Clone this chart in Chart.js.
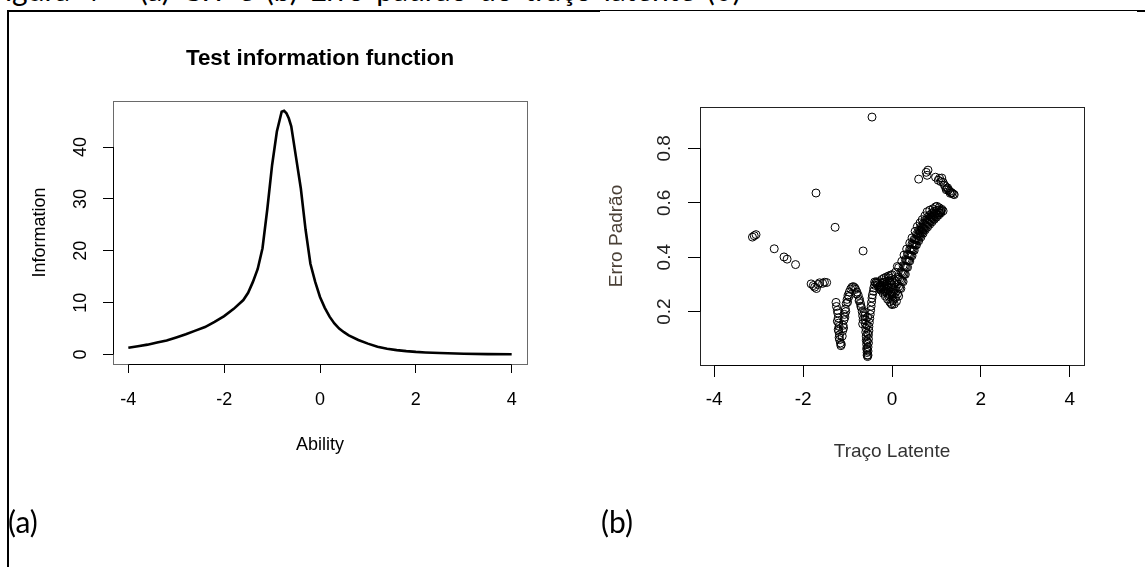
<!DOCTYPE html>
<html>
<head>
<meta charset="utf-8">
<script src="https://cdn.jsdelivr.net/npm/chart.js@4.4.0/dist/chart.umd.min.js"></script>
<style>
  body { margin: 0; background: #fff; width: 1145px; height: 567px; overflow: hidden; position: relative; }
  #capt { position: absolute; left: -12px; top: -29px; font: 30px Lato, "Open Sans", sans-serif; word-spacing: 4px; white-space: nowrap; color: #000; }
  .ln { position: absolute; background: #000; }
  #c1 { position: absolute; left: 0; top: 0; }
  #c2 { position: absolute; left: 575px; top: 0; }
  .lab { position: absolute; top: 503px; line-height: 36px; font: 30px Lato, "Open Sans", sans-serif; color: #000; }
</style>
</head>
<body>
<div id="capt">Figura 4 – (a) CIT e (b) Erro padrão do traço latente (θ)</div>
<div class="ln" style="left:7px;top:10px;width:593px;height:2px"></div>
<div class="ln" style="left:600px;top:10px;width:537px;height:1px"></div>
<div class="ln" style="left:1137px;top:10px;width:8px;height:2px"></div>
<div class="ln" style="left:7px;top:10px;width:2px;height:557px"></div>
<canvas id="c1" width="640" height="567"></canvas>
<canvas id="c2" width="570" height="567"></canvas>
<div class="lab" style="left:8px">(a)</div>
<div class="lab" style="left:601px">(b)</div>
<script>
// (a) test information function
const abilityX = [-4.0,-3.8,-3.6,-3.4,-3.2,-3.0,-2.8,-2.6,-2.4,-2.2,-2.0,-1.8,-1.6,-1.5,-1.4,-1.3,-1.2,-1.1,-1.0,-0.9,-0.8,-0.75,-0.7,-0.65,-0.6,-0.5,-0.4,-0.3,-0.2,-0.1,0.0,0.1,0.2,0.3,0.4,0.5,0.6,0.8,1.0,1.2,1.4,1.6,1.8,2.0,2.2,2.5,3.0,3.5,4.0];
const infoY = [1.3,1.6,1.9,2.3,2.7,3.3,3.9,4.6,5.3,6.3,7.4,8.8,10.5,11.9,14.0,16.5,20.5,28.0,36.5,43.0,46.8,47.0,46.5,45.5,44.0,38.0,32.0,24.0,17.5,14.0,11.1,9.0,7.3,6.0,5.0,4.3,3.7,2.8,2.1,1.5,1.1,0.85,0.65,0.5,0.4,0.3,0.15,0.08,0.05];
const abilityTicks = [-4, -2, 0, 2, 4];
const infoTicks = [0, 10, 20, 30, 40];

// (b) standard error vs latent trait, [theta, se]
const isolatedPts = [[-3.14,0.474],[-3.10,0.479],[-3.06,0.483],[-2.65,0.431],[-2.43,0.401],[-2.36,0.393],[-2.17,0.373],
  [-1.71,0.636],[-1.28,0.510],[-0.65,0.423],[-0.45,0.915],[-0.39,0.309]];
const clusterPts = [[-1.82,0.302],[-1.77,0.296],[-1.74,0.290],[-1.70,0.285],[-1.66,0.300],[-1.63,0.306],[-1.56,0.304],[-1.52,0.308],[-1.47,0.307]];
const nLeftPts = [[-1.26,0.234],[-1.25,0.219],[-1.23,0.205],[-1.22,0.195],[-1.21,0.177],[-1.23,0.165],[-1.20,0.158],[-1.19,0.146],
  [-1.21,0.135],[-1.20,0.128],[-1.18,0.115],[-1.19,0.105],[-1.18,0.097],[-1.16,0.085],[-1.15,0.075],[-1.14,0.080]];
const nRisePts = [[-1.12,0.110],[-1.11,0.130],[-1.10,0.150],[-1.08,0.170],[-1.07,0.190],[-1.05,0.210],[-1.03,0.230],[-1.01,0.245],
  [-0.99,0.260],[-0.96,0.272],[-0.93,0.283],[-0.90,0.290],[-0.87,0.292],[-0.84,0.288],[-1.09,0.140],[-1.06,0.180],[-1.04,0.200],[-1.00,0.235],[-0.97,0.255]];
const nFallPts = [[-0.82,0.282],[-0.79,0.272],[-0.76,0.260],[-0.73,0.245],[-0.71,0.230],[-0.69,0.215],[-0.67,0.200],[-0.66,0.185],
  [-0.65,0.170],[-0.66,0.155],[-0.80,0.265],[-0.74,0.240],[-0.70,0.220]];
const dipPts = [[-0.62,0.200],[-0.61,0.185],[-0.60,0.170],[-0.60,0.155],[-0.59,0.140],[-0.59,0.125],[-0.58,0.110],[-0.58,0.095],
  [-0.57,0.080],[-0.57,0.065],[-0.56,0.050],[-0.56,0.040],[-0.55,0.035],[-0.54,0.040],
  [-0.56,0.060],[-0.56,0.090],[-0.55,0.120],[-0.56,0.150],[-0.55,0.180],
  [-0.54,0.055],[-0.54,0.070],[-0.53,0.085],[-0.53,0.100],[-0.53,0.115],[-0.52,0.130],[-0.52,0.145],[-0.51,0.160],[-0.50,0.175],
  [-0.49,0.190],[-0.48,0.205],[-0.47,0.220],[-0.46,0.235],[-0.45,0.250],[-0.44,0.262],[-0.42,0.275],[-0.41,0.287],[-0.39,0.297],[-0.37,0.305],[-0.35,0.310]];
const wedgePts = [[-0.33,0.305],[-0.28,0.310],[-0.23,0.318],[-0.18,0.323],[-0.13,0.327],[-0.08,0.331],[-0.03,0.334],
  [-0.32,0.298],[-0.27,0.297],[-0.22,0.296],[-0.17,0.294],[-0.12,0.292],[-0.07,0.290],[-0.02,0.288],
  [-0.25,0.288],[-0.20,0.282],[-0.15,0.276],[-0.10,0.268],[-0.05,0.262],[0.00,0.256],
  [-0.30,0.289],[-0.25,0.279],[-0.20,0.268],[-0.15,0.257],[-0.10,0.246],[-0.05,0.236],[-0.02,0.230],[0.00,0.226],
  [-0.20,0.308],[-0.15,0.310],[-0.10,0.312],[-0.05,0.313],[0.00,0.315],
  [-0.28,0.292],[-0.23,0.290],[-0.18,0.286],[-0.13,0.281],[-0.08,0.277],[-0.03,0.272],[0.02,0.270],
  [-0.22,0.304],[-0.12,0.303],[-0.02,0.303],[-0.27,0.283],[-0.17,0.273],[-0.07,0.256],[0.02,0.240]];
const bandLowPts = [[0.05,0.228],[0.10,0.238],[0.15,0.257],[0.20,0.285],[0.25,0.310],[0.30,0.337],[0.35,0.363],[0.40,0.386],[0.45,0.405],
  [0.50,0.425],[0.55,0.445],[0.60,0.460],[0.65,0.474],[0.70,0.488],[0.75,0.501],[0.80,0.511],[0.85,0.521],[0.90,0.530],[0.95,0.539],
  [1.00,0.547],[1.05,0.555],[1.10,0.563],[1.15,0.570],
  [0.025,0.245],[0.075,0.252],[0.125,0.265],[0.175,0.287],[0.225,0.312],[0.275,0.338],[0.325,0.363],[0.375,0.386],[0.425,0.406],
  [0.475,0.426],[0.525,0.445],[0.575,0.462],[0.625,0.477],[0.675,0.490],[0.725,0.503],[0.775,0.515],[0.825,0.525],[0.875,0.534],
  [0.925,0.542],[0.975,0.550],[1.025,0.557],[1.075,0.563]];
const bandMidPts = [[0.00,0.263],[0.05,0.266],[0.10,0.275],[0.15,0.292],[0.20,0.316],[0.25,0.339],[0.30,0.365],[0.35,0.388],[0.40,0.408],
  [0.45,0.427],[0.50,0.446],[0.55,0.464],[0.60,0.479],[0.65,0.493],[0.70,0.506],[0.75,0.518],[0.80,0.529],[0.85,0.538],[0.90,0.546],
  [0.95,0.553],[1.00,0.560],[1.05,0.564],[1.10,0.568],
  [0.025,0.283],[0.075,0.289],[0.125,0.301],[0.175,0.321],[0.225,0.343],[0.275,0.366],[0.325,0.389],[0.375,0.410],[0.425,0.429],
  [0.475,0.447],[0.525,0.465],[0.575,0.481],[0.625,0.496],[0.675,0.508],[0.725,0.521],[0.775,0.532],[0.825,0.542],[0.875,0.550],
  [0.925,0.557],[0.975,0.563],
  [0.00,0.299],[0.05,0.304],[0.10,0.311],[0.15,0.327],[0.20,0.347],[0.25,0.369],[0.30,0.392],[0.35,0.412],[0.40,0.430],[0.45,0.449],
  [0.50,0.466],[0.55,0.484],[0.60,0.499],[0.65,0.511],[0.70,0.523],[0.75,0.536],[0.80,0.547],[0.85,0.555],[0.90,0.562],[0.95,0.568],
  [1.00,0.572],[1.05,0.574],[1.10,0.573]];
const bandTopPts = [[0.00,0.336],[0.08,0.345],[0.15,0.362],[0.22,0.385],[0.27,0.408],[0.33,0.430],[0.40,0.452],[0.45,0.471],[0.52,0.495],
  [0.57,0.513],[0.63,0.526],[0.68,0.538],[0.74,0.552],[0.79,0.567],[0.85,0.573],[0.92,0.578],[0.98,0.585],[1.01,0.587],[1.06,0.582],[1.12,0.576],
  [-0.07,0.324],[0.12,0.366]];
const topGroupPts = [[0.60,0.687],[0.77,0.712],[0.81,0.720],[0.79,0.701],[0.98,0.694],[1.04,0.683],[1.12,0.691],[1.15,0.675],[1.07,0.690],
  [1.10,0.678],[1.18,0.665],[1.20,0.660],[1.23,0.652],[1.27,0.648],[1.30,0.642],[1.33,0.638],[1.35,0.636],[1.38,0.632],[1.40,0.630],[1.25,0.655],[1.22,0.648],[1.31,0.635]];
const thetaTicks = [-4, -2, 0, 2, 4];
const seTicks = [0.2, 0.4, 0.6, 0.8];

const tickFont = { family: '"Liberation Sans", Arial, sans-serif', size: 18 };

// box around the plot region like R's box()
const rFrame = {
  id: 'rFrame',
  afterDraw(chart, args, opts) {
    const { ctx, chartArea: a } = chart;
    ctx.save();
    ctx.lineWidth = 1;
    ctx.strokeStyle = opts.color;
    ctx.strokeRect(Math.round(a.left) + 0.5, Math.round(a.top) + 0.5, Math.round(a.right - a.left), Math.round(a.bottom - a.top));
    // axis segments from first to last tick
    ctx.strokeStyle = '#000';
    const xs = chart.scales.x, ys = chart.scales.y;
    ctx.beginPath();
    ctx.moveTo(xs.getPixelForValue(xs.ticks[0].value), Math.round(a.bottom) + 0.5);
    ctx.lineTo(xs.getPixelForValue(xs.ticks[xs.ticks.length - 1].value), Math.round(a.bottom) + 0.5);
    ctx.moveTo(Math.round(a.left) + 0.5, ys.getPixelForValue(ys.ticks[0].value));
    ctx.lineTo(Math.round(a.left) + 0.5, ys.getPixelForValue(ys.ticks[ys.ticks.length - 1].value));
    ctx.stroke();
    ctx.restore();
  }
};

function axisOpts(o) {
  return {
    type: 'linear', min: o.min, max: o.max,
    afterBuildTicks: s => { s.ticks = o.ticks.map(v => ({ value: v })); },
    afterFit: s => { if (o.horiz) s.height = o.size; else s.width = o.size; },
    grid: { display: true, drawOnChartArea: false, drawTicks: true, tickLength: o.tl, color: '#000', lineWidth: 1 },
    border: { display: false },
    ticks: Object.assign({ color: o.tickColor || '#000', font: Object.assign({}, tickFont, { size: o.fs }), padding: o.pad, autoSkip: false },
      o.horiz ? { maxRotation: 0 } : { minRotation: 90, maxRotation: 90, crossAlign: 'center' }),
    title: { display: true, text: o.title, color: o.titleColor || '#000', font: Object.assign({}, tickFont, { size: o.fs }), padding: o.titlePad }
  };
}

new Chart(document.getElementById('c1'), {
  type: 'line',
  data: {
    datasets: [{
      data: abilityX.map((x, i) => ({ x: x, y: infoY[i] })),
      borderColor: '#000', borderWidth: 2.6, pointRadius: 0, tension: 0, fill: false
    }]
  },
  options: {
    responsive: false, animation: false, events: [],
    layout: { padding: { left: 0, right: 0, top: 0, bottom: 103 } },
    plugins: {
      legend: { display: false }, tooltip: { enabled: false },
      title: { display: true, text: 'Test information function', color: '#000',
        font: { family: '"Liberation Sans", Arial, sans-serif', size: 22.4, weight: 'bold' }, padding: { top: 45, bottom: 29 } },
      rFrame: { color: '#6a6a6a' }
    },
    scales: {
      x: axisOpts({ horiz: true, min: -4.32, max: 4.32, ticks: abilityTicks, size: 100, tl: 9, fs: 18, pad: 16, title: 'Ability', titlePad: { top: 0, bottom: 8 } }),
      y: axisOpts({ horiz: false, min: -1.83, max: 48.9, ticks: infoTicks, size: 113, tl: 10, fs: 18, pad: 12, title: 'Information', titlePad: { top: 29, bottom: 0 } }),
      // empty right margin so the title centres over the plot
      yRight: { type: 'linear', position: 'right', grid: { display: false }, border: { display: false }, ticks: { display: false },
        afterFit: s => { s.width = 113; } }
    }
  },
  plugins: [rFrame]
});

const seGroups = [isolatedPts, clusterPts, nLeftPts, nRisePts, nFallPts, dipPts, wedgePts, bandLowPts, bandMidPts, bandTopPts, topGroupPts];

new Chart(document.getElementById('c2'), {
  type: 'scatter',
  data: {
    datasets: seGroups.map(g => ({
      data: g.map(p => ({ x: p[0], y: p[1] })),
      pointStyle: 'circle', pointRadius: 4, borderColor: '#000', borderWidth: 1, backgroundColor: 'rgba(0,0,0,0)'
    }))
  },
  options: {
    responsive: false, animation: false, events: [],
    layout: { padding: { left: 0, right: 61, top: 107, bottom: 102 } },
    plugins: { legend: { display: false }, tooltip: { enabled: false }, rFrame: { color: '#222' } },
    scales: {
      x: axisOpts({ horiz: true, min: -4.32, max: 4.32, ticks: thetaTicks, size: 100, tl: 12, fs: 19, pad: 11, title: 'Traço Latente', titleColor: '#333', titlePad: { top: 0, bottom: 2 } }),
      y: axisOpts({ horiz: false, min: 0.004, max: 0.952, ticks: seTicks, size: 125, tl: 12, fs: 19, pad: 10, tickColor: '#222', title: 'Erro Padrão', titleColor: '#4a4036', titlePad: { top: 30, bottom: 0 } })
    }
  },
  plugins: [rFrame]
});
</script>
</body>
</html>
